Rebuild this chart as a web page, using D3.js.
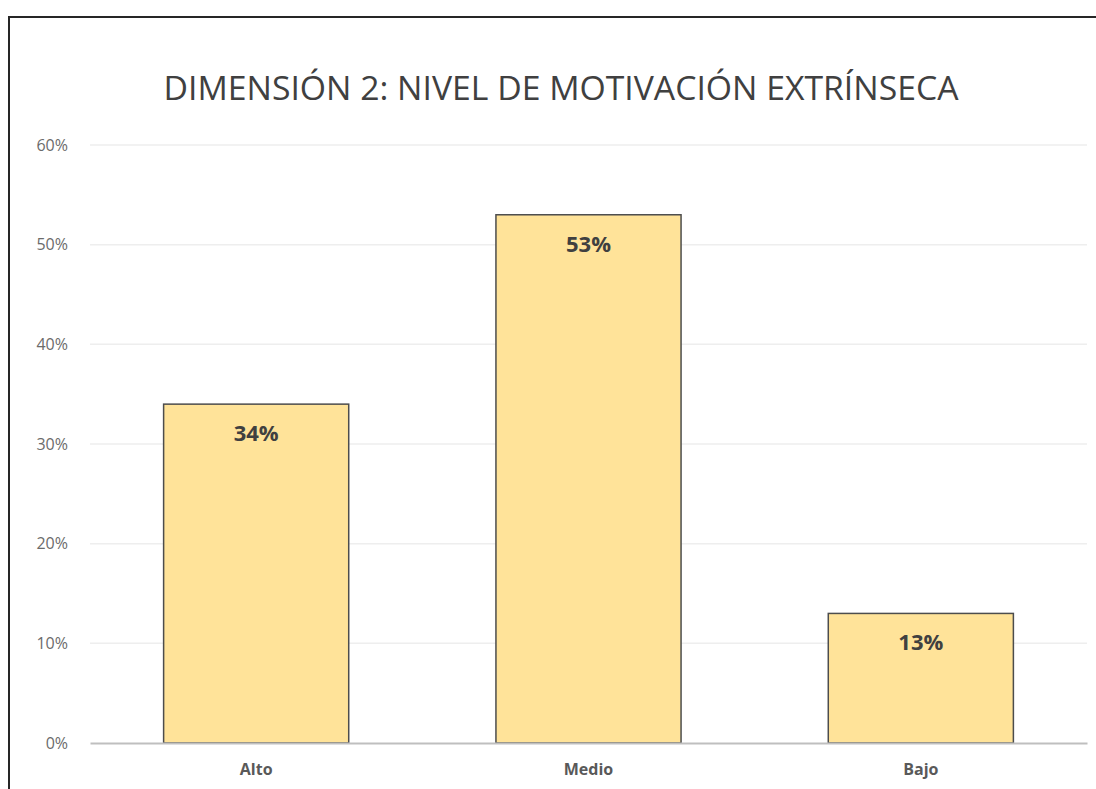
<!DOCTYPE html>
<meta charset="utf-8">
<head>
<style>
body { margin: 0; background: #fff; }
.axis text { font-family: "Open Sans", sans-serif; fill: #595959; }
</style>
</head>
<body>
<div id="chart"></div>
<script src="https://d3js.org/d3.v7.min.js"></script>
<script>

// data
var categories = ["Alto", "Medio", "Bajo"];
var values = [0.34, 0.53, 0.13];
var yTicks = [0, 0.1, 0.2, 0.3, 0.4, 0.5, 0.6];
var titleText = "DIMENSIÓN 2: NIVEL DE MOTIVACIÓN EXTRÍNSECA";

var W = 1096, H = 789;
var margin = {top: 145, right: 9, bottom: 46, left: 90},
    width = W - margin.left - margin.right,
    height = H - margin.top - margin.bottom;

var svg = d3.select("#chart")
  .append("svg")
    .attr("width", W)
    .attr("height", H);

// frame (top + left edges visible)
svg.append("line")
  .attr("x1", 8).attr("x2", W).attr("y1", 17).attr("y2", 17)
  .attr("stroke", "#262626").attr("stroke-width", 2);
svg.append("line")
  .attr("x1", 9).attr("x2", 9).attr("y1", 16).attr("y2", H)
  .attr("stroke", "#262626").attr("stroke-width", 2);

// title
svg.append("text")
  .attr("x", 561)
  .attr("y", 100)
  .attr("text-anchor", "middle")
  .style("font-family", "'Open Sans', sans-serif")
  .style("font-size", "33px")
  .attr("textLength", 795)
  .attr("lengthAdjust", "spacingAndGlyphs")
  .style("fill", "#404040")
  .text(titleText);

var canvas = svg.append("g")
  .attr("transform", "translate(" + margin.left + "," + margin.top + ")");

var x = d3.scaleBand()
  .domain(categories)
  .range([0, width])
  .paddingInner(0.443)
  .paddingOuter(0.2215);

var y = d3.scaleLinear()
  .domain([0, 0.6])
  .range([height, 0]);

// gridlines
canvas.selectAll(".grid")
  .data(yTicks.slice(1))
  .enter()
  .append("line")
    .attr("class", "grid")
    .attr("x1", 0).attr("x2", width)
    .attr("y1", function(d) { return y(d); })
    .attr("y2", function(d) { return y(d); })
    .attr("stroke", "#eeeeee")
    .attr("stroke-width", 1.5);

// y axis (labels only)
var yAxis = canvas.append("g")
  .attr("class", "axis")
  .call(d3.axisLeft(y).tickValues(yTicks).tickFormat(d3.format(".0%")).tickSize(0).tickPadding(22));
yAxis.select(".domain").remove();
yAxis.selectAll("text").style("font-size", "16px").style("fill", "#6b6b6b");

// bars
canvas.selectAll(".bar")
  .data(values)
  .enter()
  .append("rect")
    .attr("class", "bar")
    .attr("x", function(d, i) { return x(categories[i]); })
    .attr("y", function(d) { return y(d); })
    .attr("width", x.bandwidth())
    .attr("height", function(d) { return height - y(d); })
    .attr("fill", "#ffe399")
    .attr("stroke", "#4d4d4d")
    .attr("stroke-width", 1.5);

// value labels
canvas.selectAll(".val")
  .data(values)
  .enter()
  .append("text")
    .attr("class", "val")
    .attr("x", function(d, i) { return x(categories[i]) + x.bandwidth() / 2; })
    .attr("y", function(d) { return y(d) + 37; })
    .attr("text-anchor", "middle")
    .style("font-family", "'Open Sans', sans-serif")
    .style("font-weight", "bold")
    .style("font-size", "22px")
    .style("fill", "#404040")
    .text(function(d) { return Math.round(d * 100) + "%"; });

// x axis
var xAxis = canvas.append("g")
  .attr("class", "axis")
  .attr("transform", "translate(0," + height + ")")
  .call(d3.axisBottom(x).tickSize(0).tickPadding(21));
xAxis.select(".domain").attr("stroke", "#bfbfbf").attr("stroke-width", 2);
xAxis.selectAll("text").style("font-size", "16px").style("font-weight", "bold");

</script>
</body>
</html>
